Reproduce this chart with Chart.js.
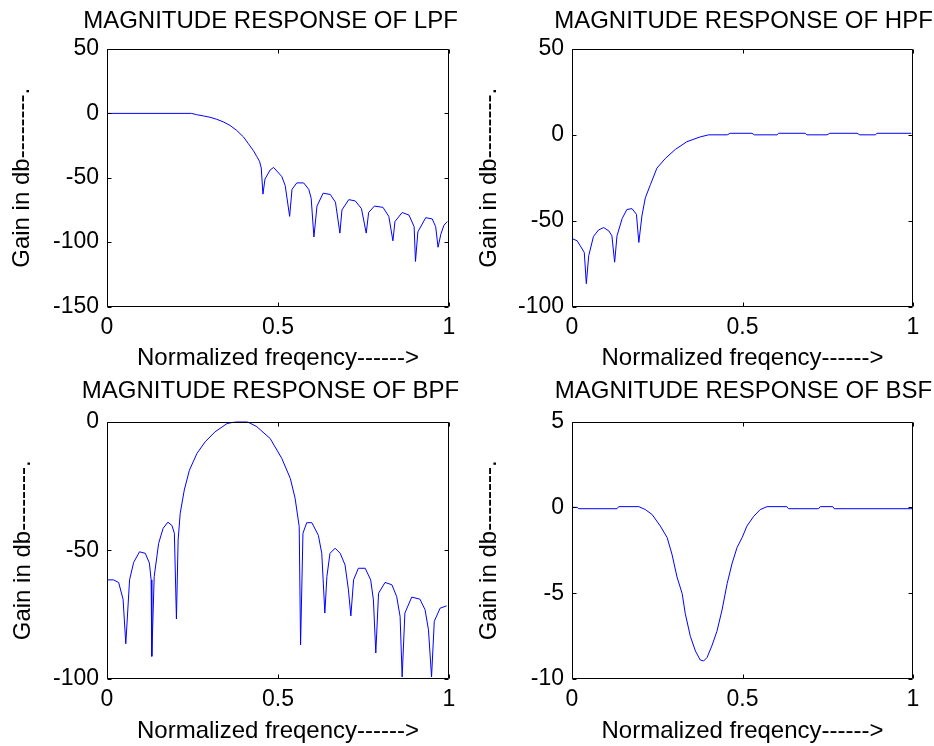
<!DOCTYPE html>
<html><head><meta charset="utf-8">
<script src="https://cdn.jsdelivr.net/npm/chart.js@4.4.1/dist/chart.umd.min.js"></script>
<style>
html,body{margin:0;padding:0;background:#fff;}
body{width:934px;height:746px;position:relative;overflow:hidden;}
.box{position:absolute;height:373px;}
</style></head><body>
<div class="box" style="left:0;top:0;width:560px"><canvas id="c1"></canvas></div>
<div class="box" style="left:467px;top:0;width:573px"><canvas id="c2"></canvas></div>
<div class="box" style="left:0;top:373px;width:560px"><canvas id="c3"></canvas></div>
<div class="box" style="left:467px;top:373px;width:573px"><canvas id="c4"></canvas></div>
<script>
// ---- data ----
const xTicks = [0, 0.5, 1];

const lpfFreq = [0, 0.247, 0.262, 0.282, 0.301, 0.321, 0.340, 0.360, 0.379, 0.399, 0.413, 0.428, 0.438, 0.446, 0.451, 0.456, 0.462, 0.477, 0.487, 0.511, 0.521, 0.534, 0.541, 0.555, 0.575, 0.590, 0.597, 0.605, 0.614, 0.632, 0.653, 0.668, 0.681, 0.687, 0.707, 0.726, 0.744, 0.758, 0.765, 0.782, 0.807, 0.824, 0.836, 0.842, 0.863, 0.883, 0.898, 0.902, 0.909, 0.932, 0.951, 0.961, 0.968, 0.976, 0.985, 0.995];
const lpfGain = [0, 0, -1.0, -2.0, -3.0, -4.6, -6.6, -9.4, -13.2, -18.3, -23.4, -28.9, -33.5, -37.3, -42.4, -62.7, -51, -44, -42, -49, -56, -80, -59, -54, -54, -59, -66, -96, -72, -62, -63, -69, -93, -75, -67, -68, -74, -93, -77, -72, -73, -80, -99, -84, -77, -79, -88, -115, -92, -81, -82, -88, -104, -94, -87, -84];
const lpfYTicks = [-150, -100, -50, 0, 50];

const hpfFreq = [0, 0.015, 0.024, 0.036, 0.042, 0.049, 0.063, 0.078, 0.093, 0.108, 0.117, 0.125, 0.132, 0.147, 0.161, 0.176, 0.189, 0.196, 0.205, 0.215, 0.230, 0.249, 0.274, 0.303, 0.337, 0.376, 0.401, 0.455, 0.464, 0.528, 0.535, 0.601, 0.606, 0.684, 0.689, 0.748, 0.756, 0.836, 0.844, 0.890, 0.894, 0.995];
const hpfGain = [-60.4, -61.7, -64.6, -68.5, -86.7, -70.4, -59.2, -55.4, -54, -56, -58.8, -74.2, -58.8, -48.8, -43.5, -43, -46.3, -62.7, -47.3, -36.7, -29, -19.4, -13.7, -8.5, -4, -1.2, 0, 0, 0.9, 0.9, 0, 0, 0.9, 0.9, 0, 0, 0.9, 0.9, 0, 0, 0.9, 0.9];
const hpfYTicks = [-100, -50, 0, 50];

const bpfFreq = [0, 0.019, 0.034, 0.047, 0.055, 0.066, 0.078, 0.095, 0.112, 0.124, 0.129, 0.131, 0.138, 0.151, 0.164, 0.178, 0.190, 0.197, 0.203, 0.208, 0.214, 0.226, 0.241, 0.263, 0.287, 0.316, 0.351, 0.380, 0.409, 0.438, 0.477, 0.511, 0.536, 0.550, 0.562, 0.566, 0.573, 0.584, 0.599, 0.618, 0.628, 0.637, 0.643, 0.652, 0.667, 0.682, 0.696, 0.706, 0.713, 0.721, 0.735, 0.755, 0.771, 0.779, 0.786, 0.794, 0.813, 0.833, 0.847, 0.857, 0.863, 0.871, 0.891, 0.915, 0.930, 0.940, 0.949, 0.957, 0.974, 0.993];
const bpfGain = [-61.5, -61.5, -62.5, -69, -86.3, -61.5, -54.7, -50.6, -51.2, -55, -61.5, -91.2, -60.2, -47.3, -41.5, -39.1, -40.4, -43.4, -76.7, -46, -35.7, -26.6, -18.9, -12.4, -7.9, -4, -0.8, 0, 0, -2, -6.6, -14.3, -22.1, -29.8, -40.8, -86.8, -43.4, -39.3, -39.3, -44.2, -51.2, -74.4, -60.2, -51.2, -49.2, -51.2, -55.7, -65.4, -75.5, -61.5, -57, -57, -61.5, -69.3, -89.9, -66.7, -62.5, -63.4, -68, -75.7, -99.2, -74.4, -68.2, -69, -73.1, -80.9, -99.2, -77.6, -72.5, -71.6];
const bpfYTicks = [-100, -50, 0];

const bsfFreq = [0, 0.015, 0.020, 0.132, 0.137, 0.196, 0.215, 0.235, 0.259, 0.279, 0.293, 0.308, 0.323, 0.332, 0.347, 0.362, 0.376, 0.386, 0.396, 0.410, 0.425, 0.440, 0.455, 0.469, 0.484, 0.499, 0.513, 0.533, 0.552, 0.572, 0.630, 0.635, 0.723, 0.728, 0.765, 0.769, 1.0];
const bsfGain = [0, 0, -0.08, -0.08, 0.04, 0.04, -0.13, -0.42, -1.09, -1.76, -2.72, -4.06, -5.02, -6.17, -7.51, -8.37, -8.89, -8.95, -8.75, -8.08, -7.22, -5.98, -4.44, -3.30, -2.34, -1.76, -1.09, -0.52, -0.13, 0.04, 0.04, -0.08, -0.08, 0.04, 0.04, -0.08, -0.08];
const bsfYTicks = [-10, -5, 0, 5];

const titles = ['MAGNITUDE RESPONSE OF LPF', 'MAGNITUDE RESPONSE OF HPF', 'MAGNITUDE RESPONSE OF BPF', 'MAGNITUDE RESPONSE OF BSF'];
const xLabel = 'Normalized freqency------>';
const yLabel = 'Gain in db--------.';

// ---- drawing ----
const FONT = '"Liberation Sans", Arial, Helvetica, sans-serif';

const framePlugin = {
  id: 'frame',
  afterDatasetsDraw(chart) {
    const {ctx, chartArea, scales} = chart;
    const L = Math.round(chartArea.left) + 0.5, R = Math.round(chartArea.right) - 0.5;
    const T = Math.round(chartArea.top) + 0.5, B = Math.round(chartArea.bottom) - 0.5;
    ctx.save();
    ctx.strokeStyle = '#000';
    ctx.lineWidth = 1;
    ctx.beginPath();
    ctx.rect(L, T, R - L, B - T);
    const tl = 4;
    scales.x.ticks.forEach(t => {
      const px = Math.round(scales.x.getPixelForValue(t.value)) + 0.5;
      ctx.moveTo(px, B); ctx.lineTo(px, B - tl);
      ctx.moveTo(px, T); ctx.lineTo(px, T + tl);
    });
    scales.y.ticks.forEach(t => {
      const py = Math.round(scales.y.getPixelForValue(t.value)) + 0.5;
      ctx.moveTo(L, py); ctx.lineTo(L + tl, py);
      ctx.moveTo(R, py); ctx.lineTo(R - tl, py);
    });
    ctx.stroke();
    ctx.restore();
  }
};

function build(id, c) {
  new Chart(document.getElementById(id), {
    type: 'line',
    data: {
      datasets: [{
        data: c.freq.map((f, i) => ({x: f, y: c.gain[i]})),
        borderColor: '#0000ff', borderWidth: 1, pointRadius: 0, tension: 0, fill: false
      }]
    },
    options: {
      animation: false, responsive: true, maintainAspectRatio: false, devicePixelRatio: 1,
      events: [],
      layout: {padding: {left: 0, right: c.pr, top: 0, bottom: 0}},
      plugins: {
        legend: {display: false}, tooltip: {enabled: false},
        title: {display: true, text: c.title, color: '#000', fullSize: true,
          font: {family: FONT, size: 24, weight: 'normal', lineHeight: 1.2},
          padding: {top: c.tt, bottom: c.tb}}
      },
      scales: {
        x: {
          type: 'linear', min: 0, max: 1,
          afterBuildTicks: s => { s.ticks = xTicks.map(v => ({value: v})); },
          afterFit: s => { s.height = c.xh; },
          grid: {display: false, drawTicks: false}, border: {display: false},
          ticks: {padding: 7.2, color: '#000', maxRotation: 0, autoSkip: false,
            callback: v => String(v),
            font: {family: FONT, size: 23, lineHeight: 1.2}},
          title: {display: true, text: xLabel, color: '#000',
            font: {family: FONT, size: 24, lineHeight: 1.2},
            padding: {top: 0, bottom: c.xtp}}
        },
        y: {
          type: 'linear', min: c.yt[0], max: c.yt[c.yt.length - 1],
          afterBuildTicks: s => { s.ticks = c.yt.map(v => ({value: v})); },
          afterFit: s => { s.width = c.yw; },
          grid: {display: false, drawTicks: false}, border: {display: false},
          ticks: {padding: 8, color: '#000', autoSkip: false,
            callback: v => String(v),
            font: {family: FONT, size: 23, lineHeight: 1.2}},
          title: {display: true, text: yLabel, color: '#000',
            font: {family: FONT, size: 24, lineHeight: 1.2},
            padding: {top: c.ytp, bottom: 0}}
        },
        y2: {
          type: 'linear', position: 'right', display: true,
          afterFit: s => { s.width = c.w2; },
          grid: {display: false, drawTicks: false}, border: {display: false},
          ticks: {display: false}
        }
      }
    },
    plugins: [framePlugin]
  });
}

build('c1', {freq: lpfFreq, gain: lpfGain, yt: lpfYTicks, title: titles[0],
  yw: 107, w2: 92, pr: 19, tt: 6.6, tb: 13.6, xh: 66.5, xtp: 0.1, ytp: 8.1});
build('c2', {freq: hpfFreq, gain: hpfGain, yt: hpfYTicks, title: titles[1],
  yw: 105, w2: 107, pr: 20, tt: 6.6, tb: 13.6, xh: 66.5, xtp: 0.1, ytp: 7.6});
build('c3', {freq: bpfFreq, gain: bpfGain, yt: bpfYTicks, title: titles[2],
  yw: 107, w2: 92, pr: 19, tt: 3.9, tb: 15.8, xh: 67, xtp: 0.6, ytp: 8.9});
build('c4', {freq: bsfFreq, gain: bsfGain, yt: bsfYTicks, title: titles[3],
  yw: 105, w2: 107, pr: 20, tt: 3.9, tb: 15.8, xh: 67, xtp: 0.6, ytp: 8.1});
</script>
</body></html>
